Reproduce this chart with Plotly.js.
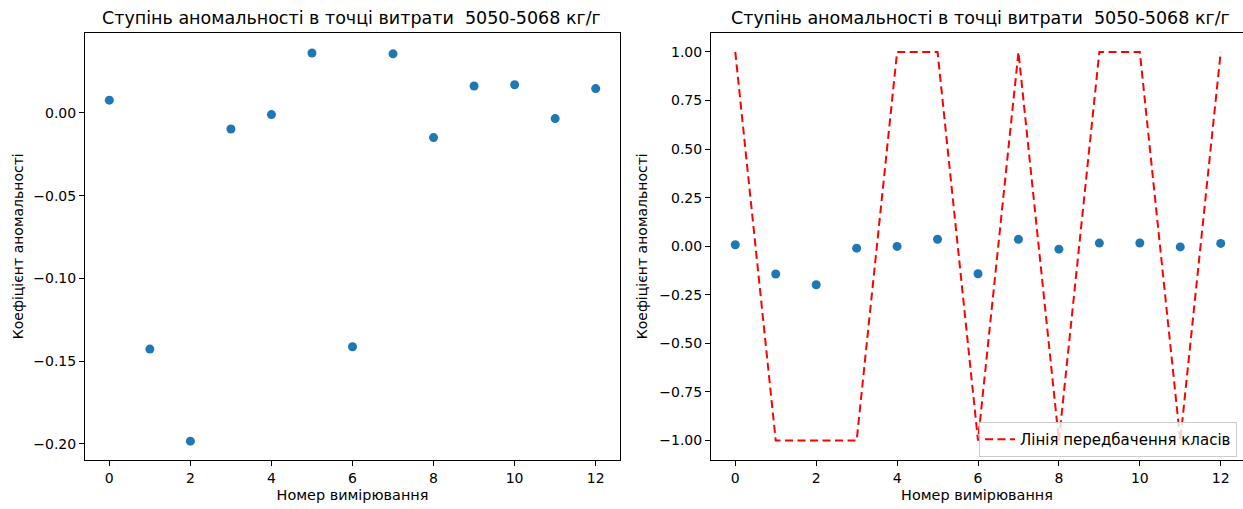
<!DOCTYPE html>
<html>
<head>
<meta charset="utf-8">
<script src="https://cdn.plot.ly/plotly-3.0.1.min.js"></script>
<style>
html,body{margin:0;padding:0;background:#fff;}
#chart{width:1243px;height:509px;}
</style>
</head>
<body>
<div id="chart"></div>
<script>
// Data
const measurementIndex = [0, 1, 2, 3, 4, 5, 6, 7, 8, 9, 10, 11, 12];
const anomalyScores = [0.0077, -0.1427, -0.1983, -0.0097, -0.0010, 0.0362, -0.1413, 0.0357, -0.0149, 0.0163, 0.0170, -0.0034, 0.0147];
const predictedClasses = [1, -1, -1, -1, 1, 1, -1, 1, -1, 1, 1, -1, 1];
const xTickValues = [0, 2, 4, 6, 8, 10, 12];
const leftYTicks = [-0.20, -0.15, -0.10, -0.05, 0.00];
const rightYTicks = [-1.00, -0.75, -0.50, -0.25, 0.00, 0.25, 0.50, 0.75, 1.00];
const titleText = "Ступінь аномальності в точці витрати  5050-5068 кг/г";
const xLabel = "Номер вимірювання";
const yLabel = "Коефіцієнт аномальності";
const legendLabel = "Лінія передбачення класів";

const FONT = "DejaVu Sans, sans-serif";
const W = 1243, H = 509;
const px = v => v / W;
const py = v => 1 - v / H;

const markerStyle = {color: "#1f77b4", size: 9};

const traces = [
  {x: measurementIndex, y: anomalyScores, type: "scatter", mode: "markers",
   marker: markerStyle, xaxis: "x", yaxis: "y", showlegend: false, hoverinfo: "x+y"},
  {x: measurementIndex, y: anomalyScores, type: "scatter", mode: "markers",
   marker: markerStyle, xaxis: "x2", yaxis: "y2", showlegend: false, hoverinfo: "x+y"},
  {x: measurementIndex, y: predictedClasses, type: "scatter", mode: "lines",
   name: legendLabel, line: {color: "#ff0000", width: 2, dash: "8px,4.5px"},
   xaxis: "x2", yaxis: "y2", showlegend: true}
];

const axisCommon = {
  showgrid: false, zeroline: false, showline: true, linecolor: "#000", linewidth: 1,
  ticks: "outside", ticklen: 5, tickwidth: 1, tickcolor: "#000",
  tickfont: {family: FONT, size: 14, color: "#000"}
};

const yTop = 32.5, yBot = 460;

const layout = {
  width: W, height: H,
  margin: {l: 0, r: 0, t: 0, b: 0},
  paper_bgcolor: "#fff", plot_bgcolor: "#fff",
  font: {family: FONT, size: 14, color: "#000"},
  xaxis: Object.assign({}, axisCommon, {
    domain: [px(85), px(620)], range: [-0.6, 12.6], mirror: true,
    tickvals: xTickValues, anchor: "y",
    title: {text: xLabel, font: {family: FONT, size: 14.4, color: "#000"}, standoff: 5}
  }),
  yaxis: Object.assign({}, axisCommon, {
    domain: [1 - yBot / H, 1 - yTop / H], range: [-0.2097, 0.0486], mirror: true,
    tickvals: leftYTicks, tickformat: ".2f", anchor: "x",
    title: {text: yLabel, font: {family: FONT, size: 14, color: "#000"}, standoff: 6}
  }),
  xaxis2: Object.assign({}, axisCommon, {
    domain: [px(711), 1], range: [-0.6, (1243 - 735.2) / 40.46], mirror: true,
    tickvals: xTickValues, anchor: "y2",
    title: {text: xLabel, font: {family: FONT, size: 14.4, color: "#000"}, standoff: 5}
  }),
  yaxis2: Object.assign({}, axisCommon, {
    domain: [1 - yBot / H, 1 - yTop / H], range: [-1.1, 1.1], mirror: false,
    tickvals: rightYTicks, tickformat: ".2f", anchor: "x2",
    title: {text: yLabel, font: {family: FONT, size: 14, color: "#000"}, standoff: 8}
  }),
  annotations: [
    {text: titleText, x: px(351), y: py(17.5), xref: "paper", yref: "paper",
     xanchor: "center", yanchor: "middle", showarrow: false,
     font: {family: FONT, size: 17.5, color: "#000"}},
    {text: titleText, x: px(980), y: py(17.5), xref: "paper", yref: "paper",
     xanchor: "center", yanchor: "middle", showarrow: false,
     font: {family: FONT, size: 17.5, color: "#000"}}
  ],
  legend: {
    x: px(1237), y: 1 - 439.5 / H, xanchor: "right", yanchor: "middle",
    bgcolor: "rgba(255,255,255,0.8)", bordercolor: "#cccccc", borderwidth: 1,
    font: {family: FONT, size: 15, color: "#000"}
  },
  showlegend: true
};

Plotly.newPlot("chart", traces, layout, {displayModeBar: false, staticPlot: true});
</script>
</body>
</html>
